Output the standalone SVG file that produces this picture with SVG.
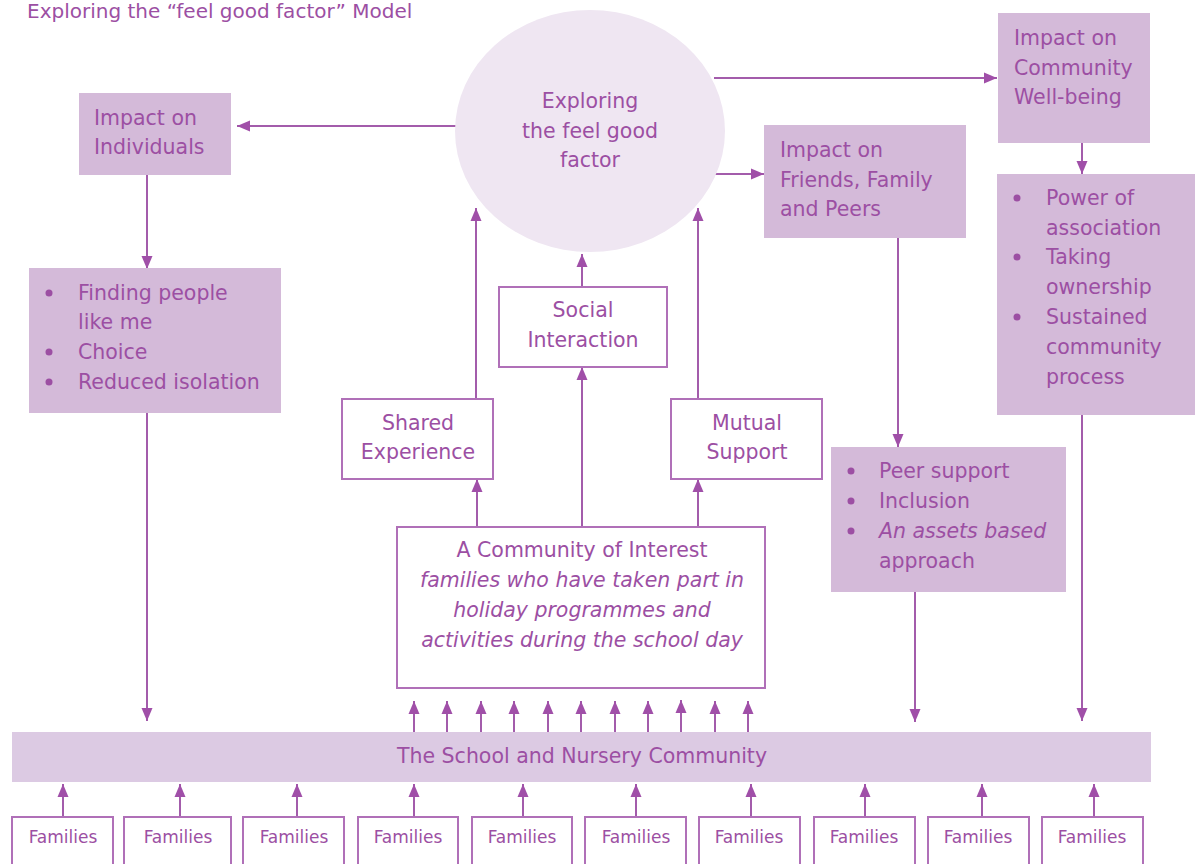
<svg xmlns="http://www.w3.org/2000/svg" width="1195" height="864" viewBox="0 0 1195 864">
<style>
text{font-family:"DejaVu Sans","Liberation Sans",sans-serif;fill:#9c4fa3;font-size:20.5px}
.c{text-anchor:middle}
.i{font-style:italic}
.fam{font-size:17px}
.ttl{font-size:20px}
.box{fill:#d4bad9}
.wb{fill:#ffffff;stroke:#b070b8;stroke-width:2}
.bar{fill:#dccae3}
.ln{stroke:#a35cab;stroke-width:2;fill:none;marker-end:url(#ah)}
.dot{fill:#9c4fa3}
</style>
<defs>
<marker id="ah" markerUnits="userSpaceOnUse" markerWidth="14" markerHeight="12" refX="13" refY="6" orient="auto">
<path d="M0,0.5 L13,6 L0,11.5 Z" fill="#a04fa8"/>
</marker>
</defs>
<rect width="1195" height="864" fill="#ffffff"/>
<text class="ttl" x="27" y="18">Exploring the “feel good factor” Model</text>

<g id="connectors">
<line class="ln" x1="456" y1="126" x2="237" y2="126"/>
<line class="ln" x1="714" y1="78" x2="997" y2="78"/>
<line class="ln" x1="714" y1="174" x2="764" y2="174"/>
<line class="ln" x1="147" y1="175" x2="147" y2="269"/>
<line class="ln" x1="147" y1="413" x2="147" y2="721"/>
<line class="ln" x1="1082" y1="143" x2="1082" y2="174"/>
<line class="ln" x1="1082" y1="415" x2="1082" y2="721"/>
<line class="ln" x1="898" y1="238" x2="898" y2="447"/>
<line class="ln" x1="915" y1="592" x2="915" y2="722"/>
<line class="ln" x1="582" y1="287" x2="582" y2="254"/>
<line class="ln" x1="476" y1="399" x2="476" y2="208"/>
<line class="ln" x1="698" y1="399" x2="698" y2="208"/>
<line class="ln" x1="582" y1="527" x2="582" y2="367"/>
<line class="ln" x1="477" y1="527" x2="477" y2="479"/>
<line class="ln" x1="698" y1="527" x2="698" y2="479"/>
<line class="ln" x1="414" y1="733" x2="414" y2="701"/>
<line class="ln" x1="447" y1="733" x2="447" y2="701"/>
<line class="ln" x1="481" y1="733" x2="481" y2="701"/>
<line class="ln" x1="514" y1="733" x2="514" y2="701"/>
<line class="ln" x1="548" y1="733" x2="548" y2="701"/>
<line class="ln" x1="581" y1="733" x2="581" y2="701"/>
<line class="ln" x1="615" y1="733" x2="615" y2="701"/>
<line class="ln" x1="648" y1="733" x2="648" y2="701"/>
<line class="ln" x1="681" y1="733" x2="681" y2="700"/>
<line class="ln" x1="715" y1="733" x2="715" y2="701"/>
<line class="ln" x1="748" y1="733" x2="748" y2="701"/>
<line class="ln" x1="63" y1="817" x2="63" y2="784"/>
<line class="ln" x1="180" y1="817" x2="180" y2="784"/>
<line class="ln" x1="297" y1="817" x2="297" y2="784"/>
<line class="ln" x1="414" y1="817" x2="414" y2="784"/>
<line class="ln" x1="523" y1="817" x2="523" y2="784"/>
<line class="ln" x1="636" y1="817" x2="636" y2="784"/>
<line class="ln" x1="751" y1="817" x2="751" y2="784"/>
<line class="ln" x1="865" y1="817" x2="865" y2="784"/>
<line class="ln" x1="982" y1="817" x2="982" y2="784"/>
<line class="ln" x1="1094" y1="817" x2="1094" y2="784"/>
</g>

<g id="circle">
<ellipse cx="590" cy="131" rx="135" ry="121" fill="#efe6f2"/>
<text class="c" x="590" y="108">Exploring</text>
<text class="c" x="590" y="138">the feel good</text>
<text class="c" x="590" y="167">factor</text>
</g>

<g id="individuals">
<rect class="box" x="79" y="93" width="152" height="82"/>
<text x="94" y="125">Impact on</text>
<text x="94" y="154">Individuals</text>
</g>

<g id="individuals-list">
<rect class="box" x="29" y="268" width="252" height="145"/>
<circle class="dot" cx="49" cy="293" r="3.5"/>
<circle class="dot" cx="49" cy="352" r="3.5"/>
<circle class="dot" cx="49" cy="382" r="3.5"/>
<text x="78" y="300">Finding people</text>
<text x="78" y="329">like me</text>
<text x="78" y="359">Choice</text>
<text x="78" y="389">Reduced isolation</text>
</g>

<g id="community-wellbeing">
<rect class="box" x="998" y="13" width="152" height="130"/>
<text x="1014" y="45">Impact on</text>
<text x="1014" y="75">Community</text>
<text x="1014" y="104">Well-being</text>
</g>

<g id="community-list">
<rect class="box" x="997" y="174" width="198" height="241"/>
<circle class="dot" cx="1017" cy="198" r="3.5"/>
<circle class="dot" cx="1017" cy="257" r="3.5"/>
<circle class="dot" cx="1017" cy="317" r="3.5"/>
<text x="1046" y="205">Power of</text>
<text x="1046" y="235">association</text>
<text x="1046" y="264">Taking</text>
<text x="1046" y="294">ownership</text>
<text x="1046" y="324">Sustained</text>
<text x="1046" y="354">community</text>
<text x="1046" y="384">process</text>
</g>

<g id="friends">
<rect class="box" x="764" y="125" width="202" height="113"/>
<text x="780" y="157">Impact on</text>
<text x="780" y="187">Friends, Family</text>
<text x="780" y="216">and Peers</text>
</g>

<g id="friends-list">
<rect class="box" x="831" y="447" width="235" height="145"/>
<circle class="dot" cx="851" cy="471" r="3.5"/>
<circle class="dot" cx="851" cy="501" r="3.5"/>
<circle class="dot" cx="851" cy="531" r="3.5"/>
<text x="879" y="478">Peer support</text>
<text x="879" y="508">Inclusion</text>
<text class="i" x="879" y="538">An assets based</text>
<text x="879" y="568">approach</text>
</g>

<g id="social">
<rect class="wb" x="499" y="287" width="168" height="80"/>
<text class="c" x="583" y="317">Social</text>
<text class="c" x="583" y="347">Interaction</text>
</g>

<g id="shared">
<rect class="wb" x="342" y="399" width="151" height="80"/>
<text class="c" x="418" y="430">Shared</text>
<text class="c" x="418" y="459">Experience</text>
</g>

<g id="mutual">
<rect class="wb" x="671" y="399" width="151" height="80"/>
<text class="c" x="747" y="430">Mutual</text>
<text class="c" x="747" y="459">Support</text>
</g>

<g id="community-of-interest">
<rect class="wb" x="397" y="527" width="368" height="161"/>
<text class="c" x="582" y="557">A Community of Interest</text>
<text class="c i" x="582" y="587">families who have taken part in</text>
<text class="c i" x="582" y="617">holiday programmes and</text>
<text class="c i" x="582" y="647">activities during the school day</text>
</g>

<g id="school-bar">
<rect class="bar" x="12" y="732" width="1139" height="50"/>
<text class="c" x="582" y="763">The School and Nursery Community</text>
</g>

<g id="families1"><rect class="wb" x="12" y="817" width="101" height="60"/><text class="c fam" x="63" y="843">Families</text></g>
<g id="families2"><rect class="wb" x="124" y="817" width="107" height="60"/><text class="c fam" x="178" y="843">Families</text></g>
<g id="families3"><rect class="wb" x="243" y="817" width="101" height="60"/><text class="c fam" x="294" y="843">Families</text></g>
<g id="families4"><rect class="wb" x="358" y="817" width="100" height="60"/><text class="c fam" x="408" y="843">Families</text></g>
<g id="families5"><rect class="wb" x="472" y="817" width="100" height="60"/><text class="c fam" x="522" y="843">Families</text></g>
<g id="families6"><rect class="wb" x="585" y="817" width="101" height="60"/><text class="c fam" x="636" y="843">Families</text></g>
<g id="families7"><rect class="wb" x="699" y="817" width="101" height="60"/><text class="c fam" x="749" y="843">Families</text></g>
<g id="families8"><rect class="wb" x="814" y="817" width="101" height="60"/><text class="c fam" x="864" y="843">Families</text></g>
<g id="families9"><rect class="wb" x="928" y="817" width="101" height="60"/><text class="c fam" x="978" y="843">Families</text></g>
<g id="families10"><rect class="wb" x="1042" y="817" width="101" height="60"/><text class="c fam" x="1092" y="843">Families</text></g>
</svg>
